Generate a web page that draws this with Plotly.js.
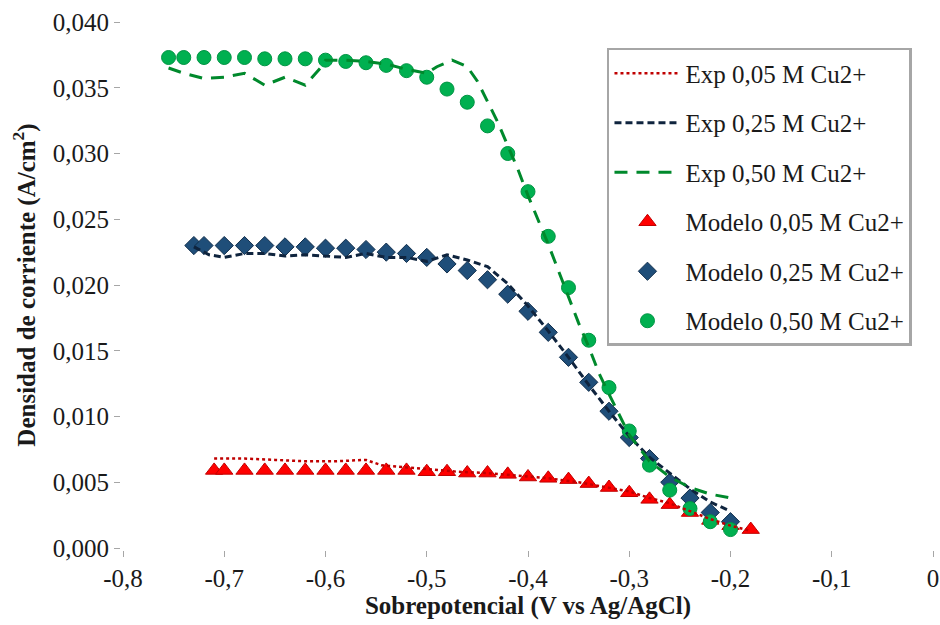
<!DOCTYPE html>
<html>
<head>
<meta charset="utf-8">
<script src="https://cdn.plot.ly/plotly-3.0.1.min.js"></script>
<style>html,body{margin:0;padding:0;background:#fff;}#chart{width:940px;height:625px;}</style>
</head>
<body>
<div id="chart"></div>
<script>
// ---- Data ----
// Experimental curves
const exp005X = [-0.71, -0.68, -0.65, -0.62, -0.59, -0.56, -0.545, -0.53, -0.50, -0.47, -0.44, -0.41, -0.38, -0.35, -0.32, -0.30, -0.28, -0.26, -0.24, -0.22, -0.20, -0.18];
const exp005Y = [0.0068, 0.0068, 0.0067, 0.0066, 0.0066, 0.0067, 0.0063, 0.0062, 0.0060, 0.0058, 0.0057, 0.0055, 0.0053, 0.0050, 0.0046, 0.0043, 0.0038, 0.0034, 0.0028, 0.0022, 0.0017, 0.0013];

const exp025X = [-0.73, -0.715, -0.70, -0.68, -0.66, -0.64, -0.62, -0.60, -0.58, -0.56, -0.54, -0.52, -0.50, -0.48, -0.46, -0.44, -0.42, -0.40, -0.38, -0.36, -0.34, -0.32, -0.30, -0.28, -0.26, -0.24, -0.22, -0.20];
const exp025Y = [0.0229, 0.0223, 0.0221, 0.0224, 0.0224, 0.0222, 0.0223, 0.0222, 0.0221, 0.0224, 0.0221, 0.0221, 0.0218, 0.0223, 0.0219, 0.0214, 0.0201, 0.0184, 0.0165, 0.0145, 0.0124, 0.0104, 0.0085, 0.0069, 0.0057, 0.0045, 0.0035, 0.0028];

const exp050X = [-0.755, -0.74, -0.72, -0.70, -0.68, -0.66, -0.64, -0.62, -0.605, -0.60, -0.58, -0.56, -0.54, -0.52, -0.50, -0.49, -0.475, -0.46, -0.45, -0.44, -0.43, -0.42, -0.41, -0.40, -0.39, -0.38, -0.37, -0.36, -0.35, -0.34, -0.33, -0.32, -0.31, -0.30, -0.28, -0.26, -0.24, -0.22, -0.20];
const exp050Y = [0.0365, 0.0361, 0.0357, 0.0358, 0.0361, 0.0352, 0.0358, 0.0352, 0.0365, 0.0371, 0.0371, 0.0370, 0.0368, 0.0364, 0.0361, 0.0366, 0.0371, 0.0366, 0.0355, 0.0340, 0.0324, 0.0306, 0.0288, 0.0268, 0.0250, 0.0231, 0.0211, 0.0191, 0.0171, 0.0153, 0.0133, 0.0117, 0.0101, 0.0086, 0.0066, 0.0054, 0.0046, 0.0041, 0.0038];

// Model points
const mod005X = [-0.71, -0.70, -0.68, -0.66, -0.64, -0.62, -0.60, -0.58, -0.56, -0.54, -0.52, -0.50, -0.48, -0.46, -0.44, -0.42, -0.40, -0.38, -0.36, -0.34, -0.32, -0.30, -0.28, -0.26, -0.24, -0.22, -0.20, -0.18];
const mod005Y = [0.0059, 0.0059, 0.0059, 0.0059, 0.0059, 0.0059, 0.0059, 0.0059, 0.0059, 0.0059, 0.0059, 0.0058, 0.0058, 0.0057, 0.0057, 0.0056, 0.0054, 0.0053, 0.0052, 0.0049, 0.0046, 0.0042, 0.0037, 0.0033, 0.0027, 0.0021, 0.0017, 0.0014];

const mod025X = [-0.73, -0.72, -0.70, -0.68, -0.66, -0.64, -0.62, -0.60, -0.58, -0.56, -0.54, -0.52, -0.50, -0.48, -0.46, -0.44, -0.42, -0.40, -0.38, -0.36, -0.34, -0.32, -0.30, -0.28, -0.26, -0.24, -0.22, -0.20];
const mod025Y = [0.0230, 0.0230, 0.0230, 0.0230, 0.0230, 0.0229, 0.0229, 0.0228, 0.0228, 0.0227, 0.0225, 0.0224, 0.0221, 0.0216, 0.0211, 0.0204, 0.0193, 0.0180, 0.0164, 0.0145, 0.0126, 0.0104, 0.0084, 0.0068, 0.0050, 0.0038, 0.0027, 0.0020];

const mod050X = [-0.755, -0.74, -0.72, -0.70, -0.68, -0.66, -0.64, -0.62, -0.60, -0.58, -0.56, -0.54, -0.52, -0.50, -0.48, -0.46, -0.44, -0.42, -0.40, -0.38, -0.36, -0.34, -0.32, -0.30, -0.28, -0.26, -0.24, -0.22, -0.20];
const mod050Y = [0.0373, 0.0373, 0.0373, 0.0373, 0.0373, 0.0372, 0.0372, 0.0372, 0.0371, 0.0370, 0.0369, 0.0367, 0.0363, 0.0358, 0.0349, 0.0339, 0.0321, 0.0300, 0.0271, 0.0237, 0.0198, 0.0158, 0.0122, 0.0089, 0.0063, 0.0044, 0.0030, 0.0020, 0.0014];

const seriesNames = ["Exp 0,05 M Cu2+", "Exp 0,25 M Cu2+", "Exp 0,50 M Cu2+", "Modelo 0,05 M Cu2+", "Modelo 0,25 M Cu2+", "Modelo 0,50 M Cu2+"];

// Tick labels
const xTickVals = [-0.8, -0.7, -0.6, -0.5, -0.4, -0.3, -0.2, -0.1, 0];
const xTickText = ["-0,8", "-0,7", "-0,6", "-0,5", "-0,4", "-0,3", "-0,2", "-0,1", "0"];
const yTickVals = [0, 0.005, 0.010, 0.015, 0.020, 0.025, 0.030, 0.035, 0.040];
const yTickText = ["0,000", "0,005", "0,010", "0,015", "0,020", "0,025", "0,030", "0,035", "0,040"];

const xTitle = "Sobrepotencial (V vs Ag/AgCl)";
const yTitle = "Densidad de corriente (A/cm<sup>2</sup>)";

// ---- Traces ----
const FONT = "'Liberation Serif', 'Times New Roman', 'DejaVu Serif', serif";
const traces = [
  {x: exp005X, y: exp005Y, name: seriesNames[0], mode: "lines", legendgroup: "g1", zorder: 2,
   line: {color: "#C00000", width: 2.5, dash: "dot"}},
  {x: exp025X, y: exp025Y, name: seriesNames[1], mode: "lines", legendgroup: "g2", zorder: 2,
   line: {color: "#0F243E", width: 3, dash: "7px,4px"}},
  {x: exp050X, y: exp050Y, name: seriesNames[2], mode: "lines", legendgroup: "g3", zorder: 2,
   line: {color: "#00892C", width: 3, dash: "13px,9px"}},
  {x: mod005X, y: mod005Y, name: seriesNames[3], mode: "markers", legendgroup: "g4", zorder: 0,
   marker: {symbol: "triangle-up", size: 15, color: "#FF0000", line: {color: "#C00000", width: 1}}},
  {x: mod025X, y: mod025Y, name: seriesNames[4], mode: "markers", legendgroup: "g5", zorder: 0,
   marker: {symbol: "diamond", size: 14, color: "#1F4E79", line: {color: "#13304d", width: 1}}},
  {x: mod050X, y: mod050Y, name: seriesNames[5], mode: "markers", legendgroup: "g6", zorder: 1,
   marker: {symbol: "circle", size: 14, color: "#00B050", line: {color: "#009443", width: 1}}}
];

const axisCommon = {
  showgrid: false, zeroline: false,
  showline: true, linecolor: "#A6A6A6", linewidth: 3, mirror: true,
  ticks: "outside", ticklen: 6, tickcolor: "#A6A6A6", tickwidth: 1,
  tickfont: {family: FONT, size: 25, color: "#1a1a1a"}
};

const layout = {
  width: 940, height: 625,
  margin: {l: 123, r: 7, t: 22, b: 77},
  paper_bgcolor: "#ffffff", plot_bgcolor: "#ffffff",
  font: {family: FONT, color: "#1a1a1a"},
  showlegend: true,
  xaxis: Object.assign({}, axisCommon, {
    range: [-0.8, 0], tickmode: "array", tickvals: xTickVals, ticktext: xTickText,
    title: {text: xTitle, font: {family: FONT, size: 25, color: "#1a1a1a", weight: "bold"}, standoff: 6}
  }),
  yaxis: Object.assign({}, axisCommon, {
    range: [0, 0.040], tickmode: "array", tickvals: yTickVals, ticktext: yTickText,
    title: {text: yTitle, font: {family: FONT, size: 25, color: "#1a1a1a", weight: "bold"}, standoff: 11}
  }),
  legend: {
    x: 0.5975, y: 0.9506, xanchor: "left", yanchor: "top",
    bgcolor: "#ffffff", bordercolor: "#A6A6A6", borderwidth: 2.5,
    font: {family: FONT, size: 25, color: "#1a1a1a"},
    tracegroupgap: 14, itemwidth: 66, traceorder: "grouped"
  }
};

Plotly.newPlot("chart", traces, layout, {staticPlot: true, displayModeBar: false});
</script>
</body>
</html>
